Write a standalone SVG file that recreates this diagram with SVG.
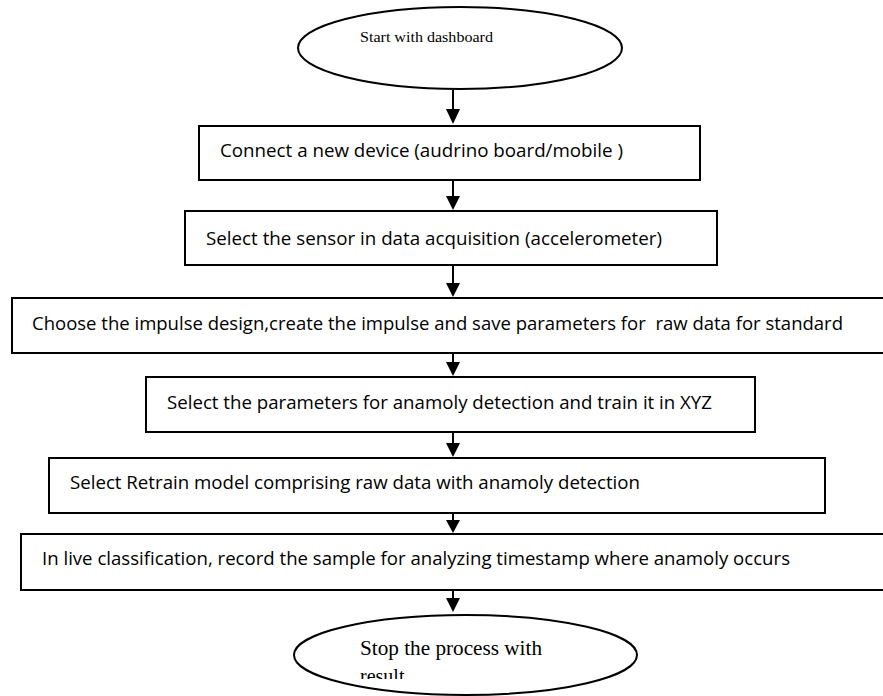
<svg xmlns="http://www.w3.org/2000/svg" width="883" height="696" viewBox="0 0 883 696">
<style>
.box{fill:#fff;stroke:#000;stroke-width:2}
.ell{fill:#fff;stroke:#000;stroke-width:2}
.t{font-family:"Open Sans","Liberation Sans",sans-serif;font-size:18px;fill:#000}
.s{font-family:"Liberation Serif","Times New Roman",serif;fill:#000}
.c{stroke:#000;stroke-width:2;fill:none}
.h{fill:#000}
</style>
<defs>
<clipPath id="clipEnd"><rect x="0" y="600" width="883" height="79"/></clipPath>
</defs>
<rect width="883" height="696" fill="#fff"/>
<g id="connectors">
<line class="c" x1="453" y1="90" x2="453" y2="110"/>
<line class="c" x1="453" y1="181" x2="453" y2="197"/>
<line class="c" x1="453" y1="266" x2="453" y2="284"/>
<line class="c" x1="453" y1="354" x2="453" y2="363"/>
<line class="c" x1="453" y1="433" x2="453" y2="444"/>
<line class="c" x1="453" y1="514" x2="453" y2="521"/>
<line class="c" x1="453" y1="591" x2="453" y2="599"/>
<path class="h" d="M446,109 L460,109 L453,124 Z"/>
<path class="h" d="M446,196 L460,196 L453,210 Z"/>
<path class="h" d="M446,283 L460,283 L453,297 Z"/>
<path class="h" d="M446,362 L460,362 L453,376 Z"/>
<path class="h" d="M446,443 L460,443 L453,457 Z"/>
<path class="h" d="M446,520 L460,520 L453,533 Z"/>
<path class="h" d="M446,598 L460,598 L453,612 Z"/>
</g>
<g id="start">
<ellipse class="ell" cx="460" cy="48" rx="162" ry="41"/>
<text class="s" x="360" y="42" font-size="15" textLength="133" lengthAdjust="spacingAndGlyphs">Start with dashboard</text>
</g>
<g id="connect">
<rect class="box" x="199" y="126" width="501" height="54"/>
<text class="t" x="220" y="157" textLength="403" lengthAdjust="spacingAndGlyphs">Connect a new device (audrino board/mobile )</text>
</g>
<g id="sensor">
<rect class="box" x="185" y="211" width="532" height="54"/>
<text class="t" x="206" y="245" textLength="456" lengthAdjust="spacingAndGlyphs">Select the sensor in data acquisition (accelerometer)</text>
</g>
<g id="impulse">
<rect class="box" x="12" y="298" width="880" height="55"/>
<text class="t" x="32" y="330" textLength="811" lengthAdjust="spacingAndGlyphs" xml:space="preserve">Choose the impulse design,create the impulse and save parameters for  raw data for standard</text>
</g>
<g id="anomaly">
<rect class="box" x="146" y="377" width="609" height="55"/>
<text class="t" x="167" y="409" textLength="545" lengthAdjust="spacingAndGlyphs">Select the parameters for anamoly detection and train it in XYZ</text>
</g>
<g id="retrain">
<rect class="box" x="49" y="458" width="776" height="55"/>
<text class="t" x="70" y="489" textLength="570" lengthAdjust="spacingAndGlyphs">Select Retrain model comprising raw data with anamoly detection</text>
</g>
<g id="live">
<rect class="box" x="21" y="534" width="871" height="56"/>
<text class="t" x="42" y="565" textLength="748" lengthAdjust="spacingAndGlyphs">In live classification, record the sample for analyzing timestamp where anamoly occurs</text>
</g>
<g id="stop">
<ellipse class="ell" cx="465.5" cy="655" rx="171.5" ry="40"/>
<text class="s" x="360" y="655" font-size="20" textLength="182" lengthAdjust="spacingAndGlyphs">Stop the process with</text>
<text class="s" x="360" y="683" font-size="20" clip-path="url(#clipEnd)">result</text>
</g>
</svg>
